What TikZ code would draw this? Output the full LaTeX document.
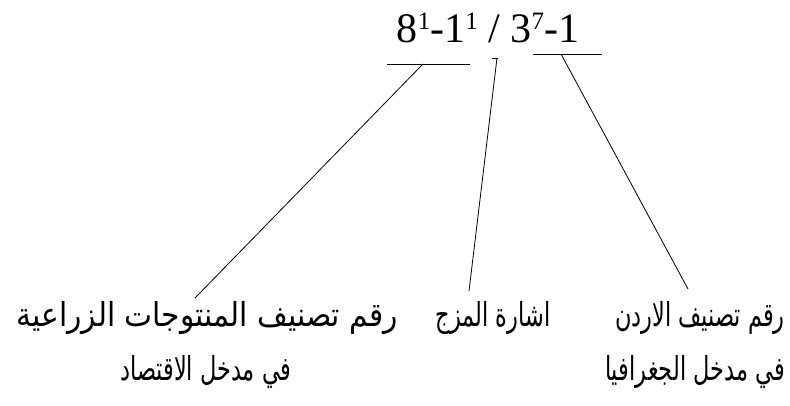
\documentclass[tikz,border=0pt]{standalone}
\usepackage{fontspec}
\setmainfont{Liberation Serif}
\newfontfamily\arabicfont[Script=Arabic,FakeStretch=0.68]{DejaVu Sans}
\newfontfamily\arabicwide[Script=Arabic,FakeStretch=0.9]{DejaVu Sans}
\newcommand{\mysup}[1]{\raisebox{13pt}{\fontsize{25}{25}\selectfont #1}}
\TeXXeTstate=1
\begin{document}
\begin{tikzpicture}[x=1pt,y=-1pt,
  lbl/.style={inner sep=0pt,font=\arabicfont\fontsize{33}{36}\selectfont},
  lblwide/.style={inner sep=0pt,font=\arabicwide\fontsize{33}{36}\selectfont},
  conn/.style={line width=0.8pt},
  bar/.style={line width=0.8pt}]
\useasboundingbox (0,0) rectangle (790,405);
\node[inner sep=0pt,anchor=base,font=\fontsize{42}{48}\selectfont] (title) at (488,42) {8\mysup{1}-1\mysup{1} / 3\mysup{7}-1};
% underlines
\coordinate (l1) at (387,64); \coordinate (l2) at (470,64);
\coordinate (m1) at (492,58); \coordinate (m2) at (498,58);
\coordinate (r1) at (533,54); \coordinate (r2) at (602,54);
\draw[bar] (l1) -- (l2);
\draw[bar] (m1) -- (m2);
\draw[bar] (r1) -- (r2);
\coordinate (lt) at (423,64);
\coordinate (mt) at (497,58);
\coordinate (rt) at (561,54);
% labels
\node[lblwide,anchor=east] (agri) at (398,318) {\beginR رقم تصنيف المنتوجات الزراعية\endR};
\node[lbl] (econ) at (206,372) {\beginR في مدخل الاقتصاد\endR};
\node[lbl] (mix) at (493,318) {\beginR اشارة المزج\endR};
\node[lbl,anchor=east] (jor) at (785,318) {\beginR رقم تصنيف الاردن\endR};
\node[lbl,anchor=east] (geo) at (785,372) {\beginR في مدخل الجغرافيا\endR};
\coordinate (le) at (195,298);
\coordinate (me) at (469,291);
\coordinate (re) at (688,289);
\draw[conn] (lt) -- (le);
\draw[conn] (mt) -- (me);
\draw[conn] (rt) -- (re);
\end{tikzpicture}
\end{document}
